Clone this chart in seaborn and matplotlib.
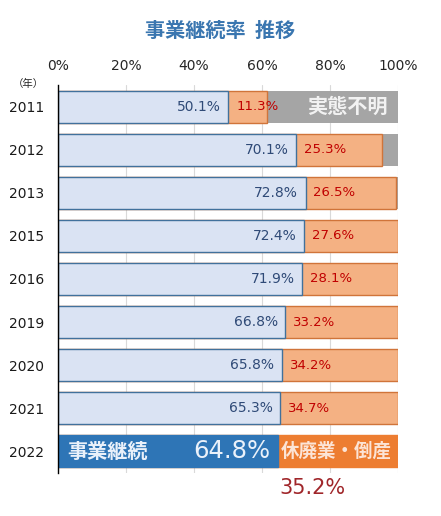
import matplotlib
matplotlib.use('Agg')
import matplotlib.pyplot as plt
import seaborn as sns
import pandas as pd
import numpy as np

years = ['2011', '2012', '2013', '2015', '2016', '2019', '2020', '2021', '2022']
continued = [50.1, 70.1, 72.8, 72.4, 71.9, 66.8, 65.8, 65.3, 64.8]
closed = [11.3, 25.3, 26.5, 27.6, 28.1, 33.2, 34.2, 34.7, 35.2]
unknown = [38.6, 4.6, 0.7, 0, 0, 0, 0, 0, 0]
xticks = [0, 20, 40, 60, 80, 100]
tick_labels = ['0%', '20%', '40%', '60%', '80%', '100%']
title = '事業継続率  推移'

sns.set_theme(style='white')
plt.rcParams['font.family'] = ['DejaVu Sans', 'Noto Sans CJK JP']
CJK = ['Noto Sans CJK JP', 'DejaVu Sans']

df = pd.DataFrame({'year': years, 'cont': continued, 'closed': closed, 'unk': unknown})
df['c2'] = df['cont'] + df['closed']
df['c3'] = df['c2'] + df['unk']

fig = plt.figure(figsize=(4.41, 5.16), dpi=100)
ax = fig.add_axes([58 / 441, 1 - 473 / 516, 340 / 441, 388 / 516])

last = years[-1]
blue_pal = {y: ('#2E75B6' if y == last else '#DAE3F3') for y in years}
orange_pal = {y: ('#ED7D31' if y == last else '#F4B183') for y in years}
grey_pal = {y: '#A5A5A5' for y in years}

common = dict(y='year', hue='year', order=years, hue_order=years, orient='h',
              width=0.74, saturation=1, legend=False, ax=ax, dodge=False)

sns.barplot(data=df, x='c3', palette=grey_pal, linewidth=0, **common)
n0 = len(ax.patches)
sns.barplot(data=df, x='c2', palette=orange_pal, edgecolor='#D0743A', linewidth=1.0, **common)
sns.barplot(data=df, x='cont', palette=blue_pal, edgecolor='#41719C', linewidth=1.0, **common)

for p in ax.patches[n0:]:
    yc = p.get_y() + p.get_height() / 2
    if abs(yc - (len(years) - 1)) < 0.1:
        p.set_edgecolor(p.get_facecolor())

ax.set_xlim(0, 100)
ax.set_xticks(xticks)
ax.set_xticklabels(tick_labels)
ax.xaxis.tick_top()
ax.tick_params(axis='x', length=0, pad=9, labelsize=10, colors='#262626')
ax.tick_params(axis='y', length=0, pad=10, labelsize=10, colors='#1a1a1a')
ax.set_xlabel('')
ax.set_ylabel('')
ax.grid(axis='x', color='#D9D9D9', linewidth=0.8)
ax.set_axisbelow(True)
for s in ['top', 'right', 'bottom']:
    ax.spines[s].set_visible(False)
ax.spines['left'].set_color('black')
ax.spines['left'].set_linewidth(1.0)

for i, y in enumerate(years[:-1]):
    ax.text(continued[i] - 2.2, i, f'{continued[i]:.1f}%', ha='right', va='center',
            fontsize=10, color='#2F4A77')
    ax.text(continued[i] + 2.3, i, f'{closed[i]:.1f}%', ha='left', va='center',
            fontsize=9.5, color='#C00000')

ax.text(97.0, 0, '実態不明', ha='right', va='center', fontsize=14.5,
        fontweight='bold', color='#F2F2F2', family=CJK)

i = len(years) - 1
ax.text(2.8, i, '事業継続', ha='left', va='center', fontsize=14.5,
        fontweight='bold', color='#EAF1FA', family=CJK)
ax.text(continued[i] - 2.3, i, f'{continued[i]:.1f}%', ha='right', va='center',
        fontsize=17.5, color='#EAF1FA')
ax.text(continued[i] + 0.6, i, '休廃業・倒産', ha='left', va='center', fontsize=13.3,
        fontweight='bold', color='#FCE4D6', family=CJK)
ax.text(continued[i] + 0.3, i + 0.84, f'{closed[i]:.1f}%', ha='left',
        va='center', fontsize=15, color='#A0262A', clip_on=False)

fig.text(220 / 441, 1 - 30 / 516, title, ha='center', va='center', fontsize=14.5,
         fontweight='bold', color='#3A76B0', family=CJK)
fig.text(28 / 441, 1 - 84 / 516, '（年）', ha='center', va='center', fontsize=7.5,
         color='#262626', family=CJK)

fig.savefig('out.png', dpi=100)
